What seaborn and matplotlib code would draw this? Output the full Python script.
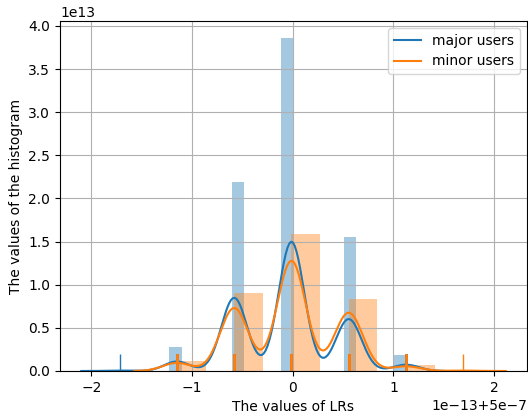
import numpy as np
import pandas as pd
import seaborn as sns
import matplotlib.pyplot as plt

# distinct LR values (float32, a few ulps around 5e-7)
lr_values = [4.99999817e-07, 4.99999874e-07, 4.99999931e-07, 4.99999987e-07,
             5.00000044e-07, 5.00000101e-07, 5.00000158e-07]

# how many users hit each LR value
major_counts = [1, 21, 162, 286, 115, 14, 0]
minor_counts = [0, 19, 148, 259, 137, 11, 1]

lr = np.array(lr_values, dtype=np.float32).astype(np.float64)
major = np.repeat(lr, major_counts)
minor = np.repeat(lr, minor_counts)

fig, ax = plt.subplots(figsize=(5.28, 4.18), dpi=100)
fig.subplots_adjust(left=60 / 528, right=527 / 528, bottom=47 / 418, top=397 / 418)

# major users: hist + kde + rug
sns.histplot(x=major, bins=23, stat="density", color="C0", alpha=0.4,
             linewidth=0, ax=ax)
sns.kdeplot(x=major, bw_adjust=0.96, cut=3, color="C0", lw=1.5,
            label="major users", ax=ax)
sns.rugplot(x=major, height=0.05, color="C0", expand_margins=False, ax=ax)

# minor users
sns.histplot(x=minor, bins=10, stat="density", color="C1", alpha=0.4,
             linewidth=0, ax=ax)
sns.kdeplot(x=minor, bw_adjust=1.04, cut=3, color="C1", lw=1.5,
            label="minor users", ax=ax)
sns.rugplot(x=minor, height=0.05, color="C1", expand_margins=False, ax=ax)

ax.set_xlabel("The values of LRs")
ax.set_ylabel("The values of the histogram")
ax.grid(True)
ax.legend(loc="upper right")

fig.savefig("out.png", dpi=100)
